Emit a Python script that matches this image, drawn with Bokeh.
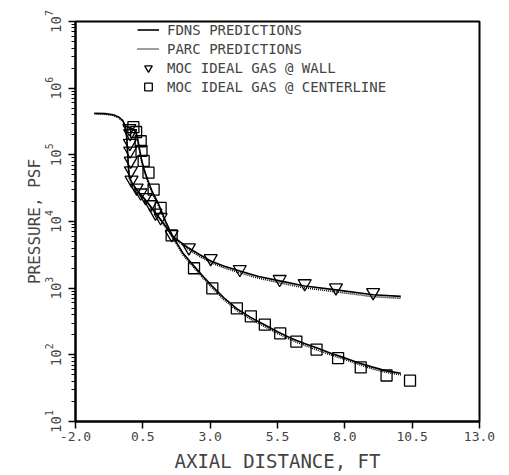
from bokeh.plotting import figure
from bokeh.models import (FixedTicker, NumeralTickFormatter, Legend, LegendItem,
                          LogTicker, Range1d)
from bokeh.embed import file_html
from bokeh.resources import INLINE

# ---- data ----
wall_moc_x = [0.00, 0.03, 0.02, 0.03, 0.05, 0.06, 0.08, 0.27, 0.42, 0.60, 0.79, 0.97,
              1.16, 1.57, 2.21, 3.02, 4.10, 5.58, 6.51, 7.67, 9.05]
wall_moc_p = [2.5e5, 2.1e5, 1.5e5, 1.15e5, 8.1e4, 5.8e4, 4.2e4, 3.2e4, 2.7e4, 2.3e4,
              1.8e4, 1.35e4, 1.15e4, 6400, 4050, 2800, 1920, 1360, 1175, 1020, 863]

cl_moc_x = [0.15, 0.25, 0.42, 0.45, 0.53, 0.71, 0.90, 1.16, 1.57, 2.40, 3.08, 3.99,
            4.51, 5.03, 5.60, 6.20, 6.95, 7.75, 8.59, 9.55, 10.42]
cl_moc_p = [2.6e5, 2.2e5, 1.6e5, 1.15e5, 8.1e4, 5.4e4, 3.0e4, 1.6e4, 6200, 1990, 990,
            498, 378, 284, 210, 158, 120, 89, 65, 49, 41]

wall_line_x = [-1.30, -0.90, -0.60, -0.40, -0.25, -0.15, -0.10, -0.07, -0.04, 0.00, 0.10,
               0.25, 0.42, 0.65, 0.97, 1.30, 1.61, 1.90, 2.20, 2.60, 3.02, 3.50, 4.10,
               4.80, 5.58, 6.51, 7.67, 9.05, 10.08]
wall_fdns_p = [4.2e5, 4.15e5, 4.0e5, 3.7e5, 3.3e5, 2.7e5, 1.9e5, 1.2e5, 7.0e4, 4.6e4,
               3.8e4, 3.1e4, 2.55e4, 2.0e4, 1.35e4, 9000, 6000, 4900, 4000, 3200, 2560,
               2150, 1810, 1500, 1285, 1080, 944, 795, 752]
wall_parc_p = [4.1e5, 4.05e5, 3.9e5, 3.6e5, 3.2e5, 2.6e5, 1.85e5, 1.15e5, 6.8e4, 4.4e4,
               3.6e4, 2.95e4, 2.45e4, 1.9e4, 1.3e4, 8700, 5800, 4700, 3800, 3000, 2420,
               2030, 1700, 1410, 1200, 1010, 880, 745, 705]

cl_line_x = [-0.15, 0.00, 0.12, 0.23, 0.30, 0.38, 0.45, 0.55, 0.68, 0.85, 1.09, 1.35,
             1.61, 2.00, 2.40, 2.75, 3.08, 3.50, 4.00, 4.50, 5.00, 5.50, 6.00, 6.50,
             7.00, 7.50, 8.00, 8.50, 9.00, 9.50, 10.08]
cl_fdns_p = [2.7e5, 2.6e5, 2.45e5, 2.3e5, 1.8e5, 1.2e5, 8.5e4, 6.0e4, 4.2e4, 2.8e4,
             1.8e4, 1.0e4, 6000, 3300, 2140, 1480, 1070, 720, 490, 365, 285, 222, 178,
             148, 125, 105, 90, 76, 66, 58, 53]
cl_parc_p = [2.6e5, 2.5e5, 2.35e5, 2.2e5, 1.7e5, 1.15e5, 8.1e4, 5.7e4, 4.0e4, 2.65e4,
             1.7e4, 9500, 5700, 3120, 2020, 1390, 1005, 675, 460, 343, 268, 209, 167,
             139, 117, 99, 85, 72, 62, 55, 50]

x_ticks = [-2.0, 0.5, 3.0, 5.5, 8.0, 10.5, 13.0]
legend_labels = ["FDNS PREDICTIONS", "PARC PREDICTIONS",
                 "MOC IDEAL GAS @ WALL", "MOC IDEAL GAS @ CENTERLINE"]

FONT = "DejaVu Sans Mono"

p = figure(width=500, height=474, y_axis_type="log",
           x_range=Range1d(-2.0, 13.0), y_range=Range1d(10, 1e7),
           output_backend="svg", toolbar_location=None,
           min_border_left=75, min_border_right=21, min_border_top=21,
           min_border_bottom=51)
p.grid.visible = False
p.background_fill_color = "white"
p.border_fill_color = "white"
p.outline_line_color = "black"
p.outline_line_width = 2

r_fdns_w = p.line(wall_line_x, wall_fdns_p, line_color="black", line_width=1.6)
r_parc_w = p.line(wall_line_x, wall_parc_p, line_color="black", line_width=1.6,
                  line_dash="1 1")
r_fdns_c = p.line(cl_line_x, cl_fdns_p, line_color="black", line_width=1.6)
r_parc_c = p.line(cl_line_x, cl_parc_p, line_color="black", line_width=1.6,
                  line_dash="1 1")
r_tri = p.scatter(wall_moc_x, wall_moc_p, marker="inverted_triangle", size=13,
                  fill_color=None, line_color="black", line_width=1.3)
r_sq = p.scatter(cl_moc_x, cl_moc_p, marker="square", size=11,
                 fill_color=None, line_color="black", line_width=1.3)

# x axis
xa = p.xaxis[0]
xa.ticker = FixedTicker(ticks=x_ticks)
xa.formatter = NumeralTickFormatter(format="0.0")
xa.axis_label = "AXIAL DISTANCE, FT"
xa.axis_label_text_font = FONT
xa.axis_label_text_font_size = "19px"
xa.axis_label_text_font_style = "normal"
xa.axis_label_standoff = 6
xa.major_label_text_font = FONT
xa.major_label_text_font_size = "13px"
xa.major_label_standoff = 3
xa.major_tick_out = 7
xa.major_tick_in = 0
xa.minor_tick_line_color = None
xa.axis_line_width = 2
xa.major_tick_line_width = 1.5

# y axis
ya = p.yaxis[0]
ya.ticker = LogTicker(desired_num_ticks=7, num_minor_ticks=10)
ya.axis_label = "PRESSURE, PSF"
ya.axis_label_text_font = FONT
ya.axis_label_text_font_size = "16px"
ya.axis_label_text_font_style = "normal"
ya.axis_label_standoff = -2
ya.major_label_text_font = FONT
ya.major_label_text_font_size = "14px"
ya.major_label_orientation = "vertical"
ya.major_label_standoff = 8
ya.major_tick_out = 7
ya.major_tick_in = 0
ya.minor_tick_out = 4
ya.minor_tick_in = 0
ya.axis_line_width = 2
ya.major_tick_line_width = 1.5

legend = Legend(items=[
    LegendItem(label=legend_labels[0], renderers=[r_fdns_w]),
    LegendItem(label=legend_labels[1], renderers=[r_parc_w]),
    LegendItem(label=legend_labels[2], renderers=[r_tri]),
    LegendItem(label=legend_labels[3], renderers=[r_sq]),
], location=(62, 325))
legend.border_line_color = None
legend.background_fill_alpha = 0
legend.padding = 0
legend.margin = 0
legend.spacing = 0
legend.glyph_width = 22
legend.glyph_height = 19
legend.label_height = 19
legend.label_standoff = 8
legend.label_text_font = FONT
legend.label_text_font_size = "14px"
p.add_layout(legend)

open("out.html", "w").write(file_html(p, INLINE))
